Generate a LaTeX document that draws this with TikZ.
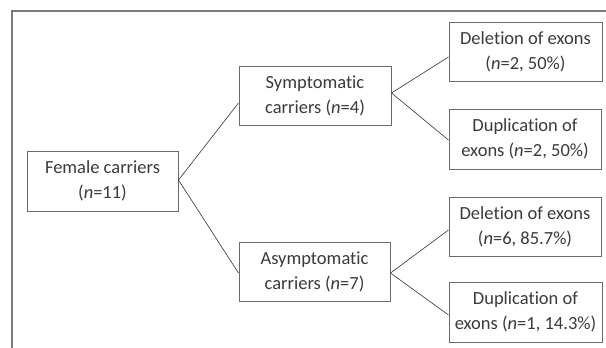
\documentclass[tikz,border=0pt]{standalone}
\usepackage{fontspec}
\setmainfont[Ligatures=NoCommon, RawFeature=-liga]{Carlito}
\usetikzlibrary{calc}
\definecolor{boxline}{HTML}{6A6A6A}
\definecolor{frameline}{HTML}{7A7A7A}
\definecolor{txt}{HTML}{3A3A3A}
\definecolor{conn}{HTML}{333333}
\tikzset{
  box/.style={draw=boxline, line width=1pt, rectangle, inner sep=0pt, align=center,
    text=txt, font=\fontsize{18.5}{25}\selectfont},
  conn/.style={draw=conn, line width=0.6pt},
}
\begin{document}
\begin{tikzpicture}[x=1pt,y=-1pt]
\useasboundingbox (0,0) rectangle (606,348);
\draw[frameline, line width=1.2pt] (12,348) -- (12,11) -- (606,11);
\node[box, minimum width=151pt, minimum height=60pt] (fem) at (102.5,181) {Female carriers\\(\textit{n}=11)};
\node[box, minimum width=152pt, minimum height=59pt] (sym) at (315,95.5) {Symptomatic\\carriers (\textit{n}=4)};
\node[box, minimum width=151pt, minimum height=59pt] (asym) at (314.5,271.5) {Asymptomatic\\carriers (\textit{n}=7)};
\node[box, minimum width=153pt, minimum height=59pt] (d1) at (525.5,51.5) {Deletion of exons\\(\textit{n}=2, 50\%)};
\node[box, minimum width=152pt, minimum height=60pt] (u1) at (525,139) {Duplication of\\exons (\textit{n}=2, 50\%)};
\node[box, minimum width=152pt, minimum height=59pt] (d2) at (525,226.5) {Deletion of exons\\(\textit{n}=6, 85.7\%)};
\node[box, minimum width=153pt, minimum height=60pt] (u2) at (525.5,312) {Duplication of\\exons (\textit{n}=1, 14.3\%)};
\draw[conn] ($(fem.east)+(0,-1)$) -- ($(sym.west)+(0,7.5)$);
\draw[conn] ($(fem.east)+(0,-1)$) -- ($(asym.west)+(0,1.5)$);
\draw[conn] ($(sym.east)+(0,-2.5)$) -- ($(d1.west)+(0,5.5)$);
\draw[conn] ($(sym.east)+(0,-2.5)$) -- ($(u1.west)+(0,1)$);
\draw[conn] ($(asym.east)+(0,1.5)$) -- ($(d2.west)+(0,3.5)$);
\draw[conn] ($(asym.east)+(0,1.5)$) -- ($(u2.west)+(0,3)$);
\end{tikzpicture}
\end{document}
